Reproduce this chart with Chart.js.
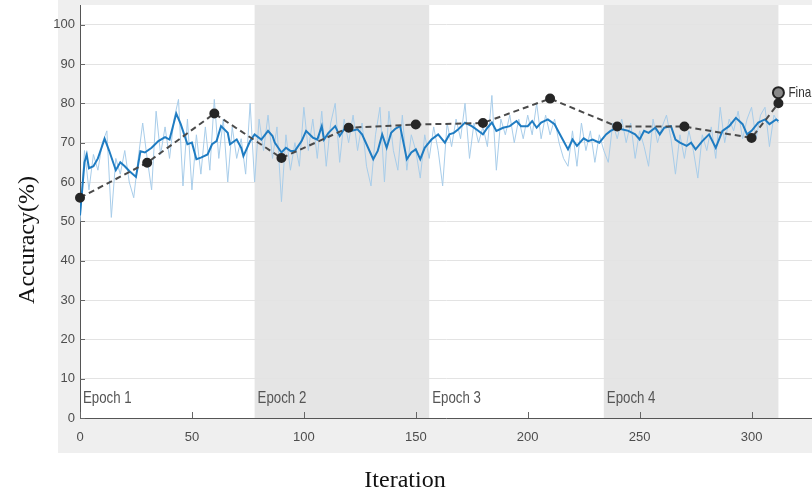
<!DOCTYPE html>
<html>
<head>
<meta charset="utf-8">
<script src="https://cdn.jsdelivr.net/npm/chart.js@4"></script>
<style>
  body { margin: 0; background: #fff; }
  canvas { display: block; }
</style>
</head>
<body>
<canvas id="training-progress" width="812" height="495"></canvas>
<script>
const xTicks = [0, 50, 100, 150, 200, 250, 300];
const yTicks = [0, 10, 20, 30, 40, 50, 60, 70, 80, 90, 100];

const epochLabels = ['Epoch 1', 'Epoch 2', 'Epoch 3', 'Epoch 4'];
const epochStart = [0, 78, 156, 234];
const epochEnd = [78, 156, 234, 312];

// raw mini-batch accuracy, one value every 2 iterations
const rawStep = 2;
const rawAcc = [
  50, 68, 58, 67, 63, 70, 73, 51, 66, 62, 68, 60, 56, 66, 75, 66, 58, 78, 67, 74,
  66, 76, 81, 59, 76, 58, 72, 62, 74, 63, 81, 66, 76, 60, 74, 66, 71, 62, 80, 60,
  76, 68, 77, 66, 74, 55, 72, 63, 70, 64, 79, 68, 76, 66, 78, 64, 75, 80, 65, 76,
  70, 77, 68, 75, 64, 59, 72, 79, 60, 78, 68, 63, 77, 63, 72, 68, 61, 72, 66, 74,
  68, 59, 75, 69, 76, 71, 80, 66, 75, 70, 74, 69, 82, 63, 76, 72, 77, 70, 76, 71,
  77, 72, 80, 71, 77, 72, 76, 70, 66, 64, 73, 64, 75, 68, 73, 65, 72, 68, 65, 75,
  71, 76, 70, 75, 66, 73, 69, 64, 76, 70, 74, 77, 71, 62, 72, 66, 73, 68, 61, 72,
  68, 74, 66, 79, 70, 76, 73, 78, 71, 76, 79, 71, 77, 79, 69, 77, 75
];

// smoothed training accuracy
const smoothIter = [
  0, 2, 3, 4, 6, 8, 11, 13, 16, 18, 20, 22, 25, 27, 29, 32, 35, 38, 40, 43,
  45, 48, 50, 52, 54, 57, 59, 61, 63, 66, 67, 70, 72, 73, 76, 78, 81, 84, 86, 87,
  90, 92, 94, 96, 99, 101, 104, 106, 108, 109, 111, 114, 116, 118, 121, 124, 126, 128, 131, 133,
  135, 137, 139, 141, 143, 146, 148, 150, 152, 154, 157, 160, 163, 165, 167, 169, 172, 175, 177, 180,
  182, 184, 186, 189, 192, 195, 197, 200, 202, 204, 206, 209, 212, 214, 216, 218, 220, 222, 225, 227,
  229, 232, 235, 237, 240, 242, 245, 248, 250, 252, 254, 257, 259, 261, 264, 266, 268, 271, 273, 275,
  278, 281, 284, 287, 290, 293, 296, 298, 300, 303, 306, 308, 311, 312
];
const smoothAcc = [
  51.5, 65, 67, 63.5, 64, 66, 71, 68, 63, 65, 64, 62.8, 61.3, 67.8, 67.5, 68.7, 70.4, 71.4, 70.8, 77.4,
  74.7, 69.6, 70, 65.8, 66.2, 67, 69.6, 70.4, 74.2, 72.5, 69.6, 70.8, 68.7, 66.6, 70.4, 72.1, 70.8, 73, 71.7, 70,
  67.5, 68.7, 67.9, 67.9, 70.4, 73, 71.3, 70.8, 74.2, 70.8, 72.5, 74.2, 71.7, 73.4, 73, 73.4, 72.1, 69.6, 65.8, 67.9,
  72.1, 68.7, 72.5, 73.6, 74.2, 65.8, 67.5, 68.3, 65.8, 68.7, 70.8, 72.1, 70, 72.1, 72.5, 73.4, 75.1, 74.2, 73.4, 72.1,
  73.8, 75.1, 73, 73.8, 74.2, 75.5, 74.2, 74.2, 75.5, 73.8, 75.1, 75.9, 74.7, 72.5, 70.4, 68.3, 70.8, 69.2, 71.1, 70.4,
  70.8, 70, 72.1, 73, 73.8, 73.4, 73, 72.1, 70.8, 73, 72.5, 73.8, 72.1, 73.8, 74.2, 70.8, 70, 69.2, 70, 68.3,
  70.4, 72.1, 68.7, 73, 74.2, 76.3, 74.7, 72.1, 73, 75.1, 75.9, 74.7, 75.9, 75.5
];

// validation accuracy
const valIter = [0, 30, 60, 90, 120, 150, 180, 210, 240, 270, 300, 312];
const valAcc = [56, 64.9, 77.4, 66.1, 73.8, 74.6, 75, 81.2, 74.1, 74.1, 71.2, 80];

const finalIter = [312];
const finalAcc = [82.7];

const sans = "'Liberation Sans', Arial, sans-serif";

const backdrop = {
  id: 'backdrop',
  beforeDraw(chart) {
    const {ctx, chartArea, scales: {x}} = chart;
    ctx.save();
    ctx.fillStyle = '#ffffff';
    ctx.fillRect(0, 0, chart.width, chart.height);
    ctx.fillStyle = '#efefef';
    ctx.fillRect(58, 0, chart.width - 58, 453);
    ctx.fillStyle = '#ffffff';
    ctx.fillRect(chartArea.left, chartArea.top, chartArea.right - chartArea.left, chartArea.bottom - chartArea.top);
    ctx.fillStyle = '#e5e5e5';
    for (let i = 1; i < epochStart.length; i += 2) {
      const a = x.getPixelForValue(epochStart[i]);
      const b = Math.min(x.getPixelForValue(epochEnd[i]), chartArea.right);
      ctx.fillRect(a, chartArea.top, b - a, chartArea.bottom - chartArea.top);
    }
    ctx.restore();
  },
  beforeDatasetsDraw(chart) {
    const {ctx, chartArea, scales: {x, y}} = chart;
    ctx.save();
    // inward tick marks
    ctx.strokeStyle = '#666';
    ctx.lineWidth = 1;
    xTicks.forEach(v => {
      const px = Math.round(x.getPixelForValue(v)) + 0.5;
      ctx.beginPath();
      ctx.moveTo(px, chartArea.bottom);
      ctx.lineTo(px, chartArea.bottom - 6);
      ctx.stroke();
    });
    yTicks.forEach(v => {
      const py = Math.round(y.getPixelForValue(v)) + 0.5;
      ctx.beginPath();
      ctx.moveTo(chartArea.left, py);
      ctx.lineTo(chartArea.left + 5, py);
      ctx.stroke();
    });
    // epoch labels, condensed like the original
    ctx.fillStyle = '#555';
    ctx.font = '17px ' + sans;
    ctx.textBaseline = 'middle';
    ctx.textAlign = 'left';
    epochLabels.forEach((t, i) => {
      ctx.save();
      ctx.translate(x.getPixelForValue(epochStart[i]) + 3, chartArea.bottom - 20);
      ctx.scale(0.78, 1);
      ctx.fillText(t, 0, 0);
      ctx.restore();
    });
    ctx.restore();
  },
  afterDraw(chart) {
    const {ctx, scales: {x, y}} = chart;
    ctx.save();
    ctx.fillStyle = '#333';
    ctx.font = '15px ' + sans;
    ctx.textBaseline = 'middle';
    ctx.translate(x.getPixelForValue(finalIter[0]) + 10, y.getPixelForValue(finalAcc[0]));
    ctx.scale(0.78, 1);
    ctx.fillText('Final', 0, 0);
    ctx.restore();
    ctx.save();
    ctx.fillStyle = '#111';
    ctx.font = '24px "Liberation Serif", "Times New Roman", serif';
    ctx.textAlign = 'center';
    ctx.textBaseline = 'middle';
    ctx.fillText('Iteration', 405, 481);
    ctx.translate(28, 240);
    ctx.rotate(-Math.PI / 2);
    ctx.fillText('Accuracy(%)', 0, 0);
    ctx.restore();
  }
};

new Chart(document.getElementById('training-progress'), {
  type: 'line',
  data: {
    datasets: [{
      label: 'Final',
      data: finalIter.map((v, i) => ({x: v, y: finalAcc[i]})),
      showLine: false,
      pointRadius: 5.5,
      pointBorderWidth: 2,
      pointBackgroundColor: '#888',
      pointBorderColor: '#222',
      clip: false,
      order: 0
    }, {
      label: 'Validation',
      data: valIter.map((v, i) => ({x: v, y: valAcc[i]})),
      borderColor: '#4a4a4a',
      borderWidth: 2,
      borderDash: [6, 4],
      pointRadius: 4,
      pointBackgroundColor: '#262626',
      pointBorderColor: '#262626',
      clip: false,
      order: 1
    }, {
      label: 'Smoothed',
      data: smoothIter.map((v, i) => ({x: v, y: smoothAcc[i]})),
      borderColor: '#1f7cc2',
      borderWidth: 2,
      pointRadius: 0,
      order: 2
    }, {
      label: 'Training',
      data: rawAcc.map((v, i) => ({x: i * rawStep, y: v})),
      borderColor: '#a8cdea',
      borderWidth: 1,
      pointRadius: 0,
      order: 3
    }]
  },
  options: {
    responsive: false,
    animation: false,
    layout: {autoPadding: false, padding: {top: 5, right: 0, bottom: 0, left: 0}},
    plugins: {legend: {display: false}, tooltip: {enabled: false}},
    scales: {
      x: {
        type: 'linear',
        min: 0,
        max: 327,
        afterBuildTicks: s => { s.ticks = xTicks.map(v => ({value: v})); },
        afterFit: s => { s.height = 77; s.paddingLeft = 0; s.paddingRight = 0; },
        grid: {display: false, drawTicks: false},
        border: {color: '#555', width: 1},
        ticks: {color: '#4d4d4d', padding: 12, font: {family: sans, size: 13}, maxRotation: 0}
      },
      y: {
        min: 0,
        max: 105,
        afterBuildTicks: s => { s.ticks = yTicks.map(v => ({value: v})); },
        afterFit: s => { s.width = 80; s.paddingTop = 0; s.paddingBottom = 0; },
        grid: {color: '#e3e3e3', drawTicks: false},
        border: {color: '#555', width: 1},
        ticks: {color: '#4d4d4d', padding: 5, font: {family: sans, size: 13}}
      }
    }
  },
  plugins: [backdrop]
});
</script>
</body>
</html>
